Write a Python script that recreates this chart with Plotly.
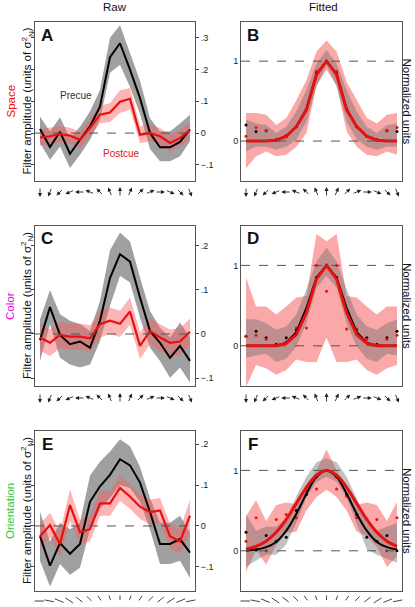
import math
import plotly.graph_objects as go

W, H = 415, 607
FONT = "Liberation Sans, Arial, sans-serif"
RED = "rgb(232,16,16)"
PINK = "rgb(250,168,168)"
GRAYA = "rgba(110,110,110,0.42)"

idx = list(range(16))

# ---------------- data ----------------
# Panel A (Space, raw)
a_pre = [0.013, -0.044, 0.004, -0.065, -0.021, 0.021, 0.084, 0.239, 0.283, 0.200, 0.110, 0.000, -0.045, -0.045, -0.028, 0.012]
a_pre_hi = [0.052, 0.005, 0.050, -0.016, 0.020, 0.068, 0.136, 0.300, 0.340, 0.255, 0.165, 0.047, 0.005, 0.005, 0.030, 0.058]
a_pre_lo = [-0.031, -0.084, -0.042, -0.110, -0.068, -0.021, 0.042, 0.190, 0.215, 0.145, 0.060, -0.050, -0.089, -0.089, -0.073, -0.026]
a_post = [-0.014, -0.010, -0.003, -0.008, -0.021, 0.016, 0.058, 0.065, 0.099, 0.108, -0.005, 0.000, -0.010, -0.031, -0.016, 0.010]
a_post_hi = [0.012, 0.016, 0.022, 0.017, 0.004, 0.042, 0.085, 0.095, 0.135, 0.142, 0.022, 0.026, 0.016, -0.005, 0.010, 0.036]
a_post_lo = [-0.040, -0.036, -0.028, -0.033, -0.046, -0.010, 0.031, 0.035, 0.063, 0.074, -0.032, -0.026, -0.036, -0.057, -0.042, -0.016]

# Panel B (Space, fitted)
b_pre_fit = [0, 0, 0, 0.01, 0.06, 0.18, 0.40, 0.84, 1.0, 0.84, 0.40, 0.18, 0.06, 0.01, 0, 0]
b_post_fit = [0, 0, 0, 0.01, 0.06, 0.18, 0.39, 0.83, 1.0, 0.83, 0.39, 0.18, 0.06, 0.01, 0, 0]
b_pre_hi = [0.27, 0.22, 0.20, 0.10, 0.18, 0.37, 0.64, 0.97, 1.14, 0.97, 0.64, 0.37, 0.18, 0.10, 0.20, 0.22]
b_pre_lo = [-0.13, -0.07, -0.07, -0.11, -0.07, 0.02, 0.24, 0.68, 0.95, 0.68, 0.24, 0.02, -0.07, -0.11, -0.07, -0.07]
b_post_hi = [0.35, 0.35, 0.33, 0.20, 0.29, 0.51, 0.76, 1.12, 1.26, 1.12, 0.74, 0.51, 0.29, 0.22, 0.33, 0.35]
b_post_lo = [-0.34, -0.19, -0.13, -0.19, -0.17, -0.07, 0.10, 0.70, 0.89, 0.70, 0.12, -0.07, -0.17, -0.19, -0.13, -0.17]
b_pre_dots = [0.20, 0.12, 0.13, 0.02, 0.07, 0.18, 0.40, 0.85, 1.0, 0.85, 0.40, 0.18, 0.06, 0.02, 0.13, 0.12]
b_post_dots = [0.06, 0.17, 0.13, 0.02, 0.05, 0.18, 0.40, 0.875, 1.0, 0.875, 0.40, 0.18, 0.06, 0.02, 0.13, 0.17]

# Panel C (Color, raw)
c_pre = [-0.014, 0.061, -0.002, -0.023, -0.017, -0.031, 0.030, 0.127, 0.181, 0.164, 0.083, 0.007, -0.020, -0.054, -0.027, -0.061]
c_pre_hi = [0.033, 0.100, 0.045, 0.030, 0.022, 0.007, 0.075, 0.190, 0.230, 0.210, 0.128, 0.052, 0.014, -0.008, 0.026, -0.008]
c_pre_lo = [-0.061, 0.022, -0.054, -0.069, -0.076, -0.069, -0.016, 0.064, 0.132, 0.117, 0.037, -0.031, -0.061, -0.099, -0.076, -0.110]
c_post = [-0.008, -0.020, -0.002, -0.006, -0.006, -0.010, 0.022, 0.030, 0.023, 0.051, -0.027, 0.007, -0.008, -0.020, -0.017, 0.005]
c_post_hi = [0.022, 0.010, 0.028, 0.024, 0.024, 0.020, 0.052, 0.060, 0.053, 0.083, 0.003, 0.037, 0.022, 0.010, 0.013, 0.035]
c_post_lo = [-0.038, -0.050, -0.032, -0.036, -0.036, -0.040, -0.008, 0.000, -0.007, 0.021, -0.057, -0.023, -0.038, -0.050, -0.047, -0.025]

# Panel D (Color, fitted)
d_pre_fit = [0, 0, 0, 0, 0.04, 0.17, 0.47, 0.85, 1.0, 0.85, 0.47, 0.17, 0.04, 0, 0, 0]
d_post_fit = [0, 0, 0, 0, 0.03, 0.14, 0.41, 0.83, 1.0, 0.83, 0.41, 0.14, 0.03, 0, 0, 0]
d_pre_hi = [0.33, 0.33, 0.28, 0.20, 0.24, 0.39, 0.70, 1.05, 1.22, 1.05, 0.70, 0.39, 0.24, 0.20, 0.28, 0.33]
d_pre_lo = [-0.15, -0.12, -0.10, -0.20, -0.16, -0.01, 0.28, 0.72, 0.87, 0.72, 0.28, -0.01, -0.16, -0.20, -0.10, -0.12]
d_post_hi = [0.85, 0.49, 0.49, 0.39, 0.49, 0.60, 0.62, 1.39, 1.30, 1.39, 0.62, 0.60, 0.49, 0.39, 0.49, 0.49]
d_post_lo = [-0.51, -0.24, -0.28, -0.36, -0.30, -0.17, -0.20, -0.20, 0.10, -0.20, -0.20, -0.17, -0.30, -0.36, -0.28, -0.24]
d_pre_dots = [0.12, 0.18, 0.10, 0.02, 0.10, 0.20, 0.45, 0.85, 1.0, 0.85, 0.45, 0.20, 0.10, 0.02, 0.10, 0.18]
d_post_dots = [0.12, 0.13, 0.08, 0.01, 0.05, 0.22, 0.22, 1.0, 0.68, 1.0, 0.21, 0.21, 0.08, 0.01, 0.08, 0.13]

# Panel E (Orientation, raw)
e_pre = [-0.025, -0.097, -0.042, -0.068, -0.044, 0.059, 0.097, 0.125, 0.163, 0.148, 0.106, 0.034, -0.044, -0.044, -0.032, -0.065]
e_pre_hi = [0.034, -0.038, 0.008, -0.008, 0.008, 0.123, 0.157, 0.182, 0.212, 0.195, 0.144, 0.068, 0.008, 0.008, 0.025, -0.017]
e_pre_lo = [-0.085, -0.148, -0.093, -0.119, -0.102, -0.008, 0.042, 0.068, 0.100, 0.093, 0.059, -0.008, -0.093, -0.093, -0.085, -0.127]
e_post = [-0.025, 0.002, -0.044, 0.051, -0.015, -0.008, 0.055, 0.055, 0.093, 0.072, 0.047, 0.034, 0.038, -0.025, -0.038, 0.025]
e_post_hi = [0.005, 0.032, -0.014, 0.089, 0.015, 0.022, 0.085, 0.085, 0.125, 0.102, 0.077, 0.064, 0.068, 0.005, -0.008, 0.064]
e_post_lo = [-0.055, -0.028, -0.074, 0.013, -0.045, -0.038, 0.025, 0.025, 0.061, 0.042, 0.017, 0.004, 0.008, -0.055, -0.068, -0.017]

# Panel F (Orientation, fitted)
f_pre_fit = [0.0, 0.015, 0.045, 0.11, 0.25, 0.46, 0.71, 0.92, 1.0, 0.92, 0.71, 0.46, 0.25, 0.11, 0.045, 0.015]
f_post_fit = [0.02, 0.056, 0.12, 0.23, 0.39, 0.59, 0.79, 0.94, 1.0, 0.94, 0.79, 0.59, 0.39, 0.23, 0.12, 0.056]
f_pre_hi = [0.45, 0.25, 0.30, 0.30, 0.40, 0.68, 0.92, 1.10, 1.15, 1.10, 0.92, 0.65, 0.35, 0.25, 0.30, 0.35]
f_pre_lo = [-0.20, -0.12, -0.05, -0.05, 0.08, 0.35, 0.66, 0.86, 0.92, 0.86, 0.66, 0.33, 0.02, -0.05, -0.10, -0.15]
f_post_hi = [0.43, 0.63, 0.37, 0.57, 0.60, 0.58, 0.80, 1.00, 1.26, 1.00, 0.80, 0.57, 0.60, 0.57, 0.37, 0.61]
f_post_lo = [-0.26, 0.01, -0.17, 0.07, 0.22, 0.24, 0.50, 0.67, 0.76, 0.67, 0.50, 0.24, 0.18, 0.05, -0.20, -0.07]
f_pre_dots = [0.23, 0.01, 0.19, 0.12, 0.17, 0.50, 0.70, 0.92, 1.0, 0.92, 0.70, 0.45, 0.17, 0.12, 0.19, 0.0]
f_post_dots = [0.12, 0.41, 0.0, 0.39, 0.45, 0.41, 0.75, 0.77, 1.0, 0.77, 0.68, 0.41, 0.40, 0.39, 0.0, 0.41]

# stimulus axes
direction_deg = [-180, -157.5, -135, -112.5, -90, -67.5, -45, -22.5, 0, 22.5, 45, 67.5, 90, 112.5, 135, 157.5]
orientation_deg = [-90, -78.75, -67.5, -56.25, -45, -33.75, -22.5, -11.25, 0, 11.25, 22.5, 33.75, 45, 56.25, 67.5, 78.75]

raw_ticks = [
    ([-0.1, 0, 0.1, 0.2, 0.3], ["\u2212.1", "0", ".1", ".2", ".3"]),
    ([-0.1, 0, 0.1, 0.2], ["\u2212.1", "0", ".1", ".2"]),
    ([-0.1, 0, 0.1, 0.2], ["\u2212.1", "0", ".1", ".2"]),
]
raw_ranges = [[-0.151, 0.35], [-0.118, 0.245], [-0.159, 0.232]]
fit_range = [-0.5, 1.49]
row_labels = [("Space", RED), ("Color", "rgb(230,0,230)"), ("Orientation", "rgb(60,200,60)")]
letters = ["A", "B", "C", "D", "E", "F"]

# ---------------- layout geometry (pixels) ----------------
rows_px = [(22, 181), (226, 386), (431, 591)]
stim_y_px = [192, 398, 601]
left_px = (35, 195)
right_px = (241, 402)

def fx(p):
    return p / W

def fy(p):
    return 1 - p / H

fig = go.Figure()
layout = dict(
    template="none",
    width=W, height=H, autosize=False,
    margin=dict(l=0, r=0, t=0, b=0, pad=0),
    paper_bgcolor="white", plot_bgcolor="white",
    showlegend=False,
    font=dict(family=FONT, size=10, color="#222"),
)

def band(ax_n, hi, lo, color):
    fig.add_trace(go.Scatter(
        x=idx + idx[::-1], y=hi + lo[::-1], fill="toself", fillcolor=color,
        line=dict(width=0), mode="lines", hoverinfo="skip",
        xaxis=f"x{ax_n}", yaxis=f"y{ax_n}"))

def line(ax_n, y, color, width, shape="linear"):
    fig.add_trace(go.Scatter(
        x=idx, y=y, mode="lines", line=dict(color=color, width=width, shape=shape),
        xaxis=f"x{ax_n}", yaxis=f"y{ax_n}"))

def dots(ax_n, y, color):
    fig.add_trace(go.Scatter(
        x=idx, y=y, mode="markers", marker=dict(color=color, size=3),
        xaxis=f"x{ax_n}", yaxis=f"y{ax_n}"))

def label(px, py, text, size, color, angle=0, bold=False):
    return dict(x=fx(px), y=fy(py), xref="paper", yref="paper", showarrow=False,
                xanchor="center", yanchor="middle", textangle=angle,
                text=f"<b>{text}</b>" if bold else text,
                font=dict(size=size, family=FONT, color=color))

raw_data = [
    (a_pre, a_pre_hi, a_pre_lo, a_post, a_post_hi, a_post_lo),
    (c_pre, c_pre_hi, c_pre_lo, c_post, c_post_hi, c_post_lo),
    (e_pre, e_pre_hi, e_pre_lo, e_post, e_post_hi, e_post_lo),
]
fit_data = [
    (b_pre_fit, b_pre_hi, b_pre_lo, b_pre_dots, b_post_fit, b_post_hi, b_post_lo, b_post_dots),
    (d_pre_fit, d_pre_hi, d_pre_lo, d_pre_dots, d_post_fit, d_post_hi, d_post_lo, d_post_dots),
    (f_pre_fit, f_pre_hi, f_pre_lo, f_pre_dots, f_post_fit, f_post_hi, f_post_lo, f_post_dots),
]

annotations = []
shapes = []

for r in range(3):
    top, bot = rows_px[r]
    nl = 2 * r + 1
    nr = 2 * r + 2
    # --- raw panel
    pre, pre_hi, pre_lo, post, post_hi, post_lo = raw_data[r]
    band(nl, pre_hi, pre_lo, "rgb(160,160,160)")
    band(nl, post_hi, post_lo, "rgba(250,90,90,0.45)")
    line(nl, pre, "black", 2)
    line(nl, post, RED, 2.2)
    # --- fitted panel
    pf, ph, plo, pd, qf, qh, qlo, qd = fit_data[r]
    shape = "spline" if r == 2 else "linear"
    band(nr, qh, qlo, PINK)
    band(nr, ph, plo, GRAYA)
    dots(nr, pd, "black")
    dots(nr, qd, RED)
    line(nr, pf, "black", 2, shape)
    line(nr, qf, RED, 3, shape)

    dom_y = [fy(bot), fy(top)]
    common_x = dict(range=[-0.5, 15.5], showline=True, mirror=True, linecolor="#555",
                    linewidth=1, showticklabels=False, ticks="", showgrid=False,
                    zeroline=False, fixedrange=True, automargin=False)
    layout[f"xaxis{nl}"] = dict(common_x, domain=[fx(left_px[0]), fx(left_px[1])], anchor=f"y{nl}")
    layout[f"xaxis{nr}"] = dict(common_x, domain=[fx(right_px[0]), fx(right_px[1])], anchor=f"y{nr}")
    tv, tt = raw_ticks[r]
    layout[f"yaxis{nl}"] = dict(domain=dom_y, range=raw_ranges[r], anchor=f"x{nl}", side="right",
                                tickvals=tv, ticktext=tt, ticks="outside", ticklen=3,
                                tickcolor="#444", showline=True, mirror="ticks",
                                linecolor="#555", linewidth=1, showgrid=False, zeroline=False,
                                automargin=False,
                                tickfont=dict(size=9, family=FONT, color="#222"))
    layout[f"yaxis{nr}"] = dict(domain=dom_y, range=fit_range, anchor=f"x{nr}", side="left",
                                tickvals=[0, 1], ticktext=["0", "1"], ticks="",
                                showline=True, mirror=True, linecolor="#555", linewidth=1,
                                showgrid=False, zeroline=False, automargin=False,
                                tickfont=dict(size=9, family=FONT, color="#222"))
    # dashed reference lines
    xl = "x" if nl == 1 else f"x{nl}"
    yl = "y" if nl == 1 else f"y{nl}"
    shapes.append(dict(type="line", xref=f"{xl} domain", x0=0, x1=1, yref=yl, y0=0, y1=0,
                       line=dict(color="#555", width=1, dash="dash"), layer="above"))
    for v in (0, 1):
        shapes.append(dict(type="line", xref=f"x{nr} domain", x0=0, x1=1, yref=f"y{nr}", y0=v, y1=v,
                           line=dict(color="#555", width=1, dash="dash"), layer="above"))

    cy = (top + bot) / 2
    annotations.append(label(27, cy, "Filter amplitude (units of \u03c3<sup>2</sup><sub>N</sub>)",
                             11.5, "#111", angle=-90))
    annotations.append(label(10, cy, row_labels[r][0], 11.5, row_labels[r][1], angle=-90))
    annotations.append(label(407, cy, "Normalized units", 11.5, "#111", angle=90))
    # panel letters
    for n, xl0 in ((nl, left_px[0]), (nr, right_px[0])):
        annotations.append(label(xl0 + 12, top + 13, letters[n - 1], 17, "#111", bold=True))
    # stimulus glyphs under each panel
    for n in (nl, nr):
        xr = "x" if n == 1 else f"x{n}"
        if r < 2:
            for i, d in enumerate(direction_deg):
                t = math.radians(d)
                L = 10
                sx, sy = math.sin(t), math.cos(t)
                annotations.append(dict(x=idx[i], y=fy(stim_y_px[r]), xref=xr, yref="paper",
                                        text="", showarrow=True, arrowhead=2, arrowsize=0.9,
                                        arrowwidth=0.9, arrowcolor="#222", standoff=0,
                                        xanchor="center", yanchor="middle",
                                        xshift=L / 2 * sx, yshift=L / 2 * sy,
                                        ax=-L * sx, ay=L * sy))
        else:
            for i, d in enumerate(orientation_deg):
                t = math.radians(d)
                L = 11
                sx, sy = math.sin(t), math.cos(t)
                annotations.append(dict(x=idx[i], y=fy(stim_y_px[r]), xref=xr, yref="paper",
                                        text="", showarrow=True, arrowhead=0,
                                        arrowwidth=1, arrowcolor="#444", standoff=0,
                                        xanchor="center", yanchor="middle",
                                        xshift=L / 2 * sx, yshift=L / 2 * sy,
                                        ax=-L * sx, ay=L * sy))

# column titles
annotations.append(label(115, 7, "Raw", 11.5, "#111"))
annotations.append(label(323, 7, "Fitted", 11.5, "#111"))
# series labels in panel A
annotations.append(label(76, 95, "Precue", 10, "#333"))
annotations.append(label(121, 153, "Postcue", 10, RED))

layout["annotations"] = annotations
layout["shapes"] = shapes
fig.update_layout(**layout)
fig.write_html("out.html", config={"displayModeBar": False, "staticPlot": True},
               post_script="document.body.style.margin='0px';")
